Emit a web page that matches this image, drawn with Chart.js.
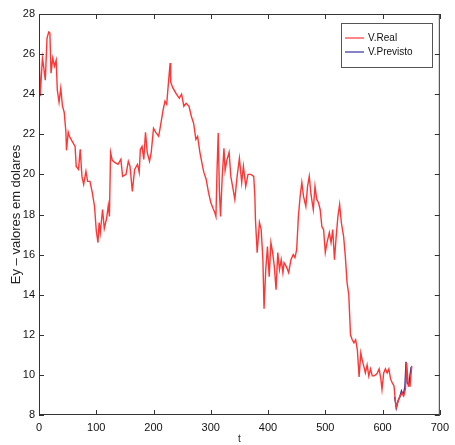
<!DOCTYPE html>
<html>
<head>
<meta charset="utf-8">
<script src="https://cdn.jsdelivr.net/npm/chart.js@4.4.0/dist/chart.umd.min.js"></script>
<style>
  html, body { margin: 0; padding: 0; background: #fff; }
  #wrap { width: 455px; height: 445px; }
</style>
</head>
<body>
<div id="wrap"><canvas id="chart" width="455" height="445"></canvas></div>
<script>
// valores (t, valor real)
const tReal = [0, 2, 6, 8, 11, 14, 17, 19, 21, 24, 27, 30, 32, 35, 38, 41, 44, 47, 48, 51,
  53, 58, 63, 65, 69, 72, 75, 78, 82, 85, 89, 93, 97, 100, 103, 105, 107, 111, 114, 118,
  121, 123, 125, 128, 132, 138, 143, 146, 152, 156, 159, 163, 167, 172, 175, 177, 180, 183, 186, 189,
  193, 196, 200, 204, 209, 212, 217, 220, 223, 226, 229, 230, 234, 240, 245, 249, 253, 257, 262, 266,
  270, 274, 277, 281, 286, 288, 292, 296, 300, 304, 307, 309, 311, 313, 315, 317, 320, 323, 325, 328,
  332, 335, 339, 342, 346, 350, 354, 357, 361, 365, 370, 375, 377, 378, 381, 385, 388, 391, 393, 396,
  399, 402, 405, 408, 411, 414, 417, 420, 423, 426, 428, 432, 436, 440, 444, 447, 450, 453, 456, 459,
  462, 466, 469, 472, 475, 479, 482, 485, 488, 491, 494, 497, 500, 503, 507, 510, 513, 516, 519, 522,
  525, 528, 532, 535, 538, 541, 544, 547, 550, 553, 556, 559, 562, 564, 567, 570, 573, 576, 579, 582,
  585, 588, 591, 594, 597, 599, 602, 605, 608, 611, 614, 617, 620, 622, 624, 628, 631, 634, 637, 640,
  642, 645, 648, 651];
const vReal = [26.55, 23.9, 25.8, 25.4, 24.7, 26.8, 27.1, 27.05, 25.05, 25.8, 25.4, 25.7, 24.2, 23.6, 24.3, 23.4, 23.1, 22.1, 21.2, 22.1,
  21.9, 21.65, 21.4, 20.4, 20.25, 21.25, 19.9, 19.5, 20.15, 19.65, 19.65, 19.1, 18.4, 17.2, 16.6, 17.6, 17.1, 18.25, 17.3, 17.8,
  18.45, 17.9, 21.1, 20.7, 20.6, 20.5, 20.75, 19.9, 20.0, 20.65, 20.4, 19.15, 20.25, 20.5, 20.1, 21.25, 21.4, 20.75, 22.1, 21.1,
  20.65, 21.1, 22.3, 22.1, 21.9, 22.4, 23.25, 23.65, 23.5, 24.55, 25.55, 24.6, 24.3, 24.0, 23.8, 24.0, 23.4, 23.55, 23.4, 22.9,
  22.55, 21.75, 21.9, 21.1, 20.35, 20.1, 19.75, 19.1, 18.6, 18.3, 18.1, 17.9, 20.25, 22.07, 19.25, 17.9, 19.9, 21.3, 20.2, 20.7,
  21.1, 19.9, 19.25, 18.75, 19.9, 20.8, 19.6, 20.4, 19.4, 20.0, 20.0, 19.9, 18.9, 17.75, 16.1, 17.6, 17.25, 15.75, 13.3, 15.25,
  16.4, 14.9, 16.6, 16.1, 15.4, 14.25, 16.1, 15.25, 15.75, 15.1, 15.6, 15.4, 15.1, 15.75, 16.0, 15.85, 16.25, 17.9, 18.9, 19.6,
  18.9, 18.4, 19.4, 19.9, 19.0, 18.25, 19.4, 18.75, 18.6, 18.25, 17.4, 17.25, 16.1, 16.6, 17.1, 16.6, 17.25, 15.75, 16.9, 17.9,
  18.5, 17.6, 16.9, 15.9, 14.6, 14.0, 12.0, 11.75, 11.6, 11.75, 11.25, 9.9, 11.1, 10.8, 10.45, 10.1, 10.5, 9.94, 10.3, 9.95,
  9.95, 10.0, 10.1, 10.3, 9.8, 9.28, 10.1, 10.3, 10.1, 10.3, 9.8, 9.6, 9.45, 8.8, 8.37, 8.78, 8.95, 9.1, 8.95, 9.3,
  10.6, 9.45, 9.45, 10.45];

// valores previstos (parte final)
const tPrev = [621, 624, 627, 630, 633, 636, 639, 641, 643, 646, 648, 650];
const vPrev = [8.9, 8.35, 8.7, 8.9, 9.2, 9.0, 9.4, 10.65, 9.6, 9.5, 10.0, 10.4];

const seriesNames = ['V.Real', 'V.Previsto'];
const seriesColors = ['#ff3636', '#35309a'];
const xTicks = [0, 100, 200, 300, 400, 500, 600, 700];
const yTicks = [8, 10, 12, 14, 16, 18, 20, 22, 24, 26, 28];

const toPoints = (ts, vs) => ts.map((t, i) => ({ x: t, y: vs[i] }));
const fontFam = '"Liberation Sans", Arial, sans-serif';

// moldura com marcas para dentro, estilo matlab
const framePlugin = {
  id: 'frame',
  afterDatasetsDraw(chart) {
    const { ctx, chartArea: a, scales } = chart;
    ctx.save();
    ctx.strokeStyle = '#333';
    ctx.lineWidth = 1;
    ctx.strokeRect(a.left + 0.5, a.top + 0.5, a.right - a.left - 1, a.bottom - a.top - 1);
    ctx.beginPath();
    xTicks.forEach(v => {
      const px = Math.round(scales.x.getPixelForValue(v)) + 0.5;
      ctx.moveTo(px, a.bottom); ctx.lineTo(px, a.bottom - 5);
      ctx.moveTo(px, a.top); ctx.lineTo(px, a.top + 5);
    });
    yTicks.forEach(v => {
      const py = Math.round(scales.y.getPixelForValue(v)) + 0.5;
      ctx.moveTo(a.left, py); ctx.lineTo(a.left + 5, py);
      ctx.moveTo(a.right, py); ctx.lineTo(a.right - 5, py);
    });
    ctx.stroke();

    // legenda
    const bx = 341, by = 23, bw = 91, bh = 44;
    ctx.fillStyle = '#fff';
    ctx.fillRect(bx, by, bw, bh);
    ctx.strokeStyle = '#555';
    ctx.strokeRect(bx + 0.5, by + 0.5, bw, bh);
    ctx.font = '10px ' + fontFam;
    ctx.textBaseline = 'middle';
    chart.data.datasets.forEach((ds, i) => {
      const y = by + 15 + i * 14;
      ctx.strokeStyle = ds.borderColor;
      ctx.lineWidth = 1.2;
      ctx.beginPath();
      ctx.moveTo(bx + 4, y); ctx.lineTo(bx + 23, y);
      ctx.stroke();
      ctx.fillStyle = '#111';
      ctx.fillText(ds.label, bx + 27, y);
    });
    ctx.restore();
  }
};

new Chart(document.getElementById('chart'), {
  type: 'line',
  data: {
    datasets: [
      {
        label: seriesNames[0],
        data: toPoints(tReal, vReal),
        borderColor: seriesColors[0],
        borderWidth: 1.4,
        pointRadius: 0,
        tension: 0
      },
      {
        label: seriesNames[1],
        data: toPoints(tPrev, vPrev),
        borderColor: seriesColors[1],
        borderWidth: 1.4,
        pointRadius: 0,
        tension: 0
      }
    ]
  },
  options: {
    responsive: false,
    animation: false,
    layout: { padding: { top: 14, right: 6, left: 0, bottom: 0 } },
    plugins: { legend: { display: false }, tooltip: { enabled: false } },
    scales: {
      x: {
        type: 'linear',
        min: 0,
        max: 700,
        afterFit: s => { s.height = 30; },
        afterBuildTicks: s => { s.ticks = xTicks.map(v => ({ value: v })); },
        grid: { display: false, drawTicks: false },
        border: { display: false },
        ticks: { color: '#111', padding: 6, maxRotation: 0, font: { size: 11, family: fontFam } },
        title: { display: true, text: 't', color: '#222', padding: { top: 0, bottom: 0 }, font: { size: 10, family: fontFam } }
      },
      y: {
        min: 8,
        max: 28,
        afterFit: s => { s.width = 39; },
        afterBuildTicks: s => { s.ticks = yTicks.map(v => ({ value: v })); },
        grid: { display: false, drawTicks: false },
        border: { display: false },
        ticks: { color: '#111', padding: 4, font: { size: 11, family: fontFam } },
        title: { display: true, text: 'Ey – valores em dolares', color: '#222', padding: { top: 9, bottom: 0 }, font: { size: 13, family: fontFam } }
      }
    }
  },
  plugins: [framePlugin]
});
</script>
</body>
</html>
